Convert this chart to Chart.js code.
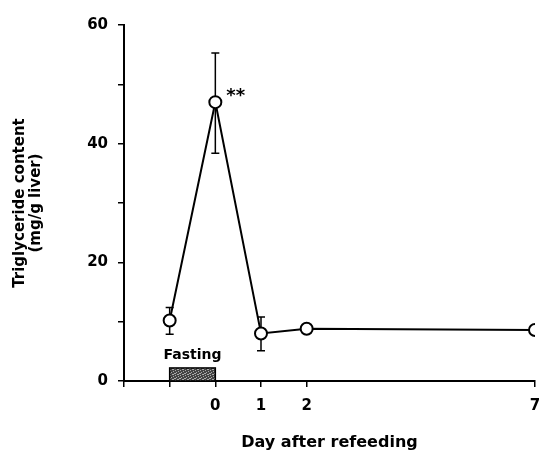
<!DOCTYPE html>
<html>
<head>
<meta charset="utf-8">
<script src="https://cdn.jsdelivr.net/npm/chart.js@4/dist/chart.umd.min.js"></script>
<style>
  html, body { margin: 0; padding: 0; background: #fff; }
  #wrap { width: 543px; height: 455px; }
</style>
</head>
<body>
<div id="wrap"><canvas id="tgChart" width="543" height="455"></canvas></div>
<script>
// data
const days = [-1, 0, 1, 2, 7];
const tgValues = [10.2, 47.0, 8.0, 8.8, 8.6];
const errUpper = [12.4, 55.3, 10.8, null, null];
const errLower = [7.9, 38.4, 5.1, null, null];
const xTicks = [-2, -1, 0, 1, 2, 7];
const xLabels = ['', '', '0', '1', '2', '7'];
const yTicks = [0, 10, 20, 30, 40, 50, 60];
const yLabels = ['0', '', '20', '', '40', '', '60'];
const fastingSpan = [-1, 0];
const fastingHeight = 2.2;
const sigMark = '**';

const FONT = "'DejaVu Sans', 'Liberation Sans', Arial, sans-serif";

// stippled grey fill for the fasting block
function stipple() {
  const c = document.createElement('canvas');
  c.width = 5; c.height = 5;
  const g = c.getContext('2d');
  g.fillStyle = '#444';
  g.fillRect(0, 0, 5, 5);
  g.fillStyle = '#aaa';
  [[0, 0], [3, 1], [1, 2], [4, 3], [2, 4], [0, 3], [3, 4]].forEach(p => g.fillRect(p[0], p[1], 1, 1));
  return g.createPattern(c, 'repeat');
}

const extras = {
  id: 'extras',
  beforeDatasetsDraw(chart) {
    const {ctx, scales: {x, y}} = chart;
    ctx.save();
    ctx.strokeStyle = '#000';
    ctx.lineWidth = 1.5;
    // error bars
    days.forEach((d, i) => {
      if (errUpper[i] == null) return;
      const px = x.getPixelForValue(d);
      const top = y.getPixelForValue(errUpper[i]);
      const bot = y.getPixelForValue(errLower[i]);
      ctx.beginPath();
      ctx.moveTo(px, top); ctx.lineTo(px, bot);
      ctx.moveTo(px - 4, top); ctx.lineTo(px + 4, top);
      ctx.moveTo(px - 4, bot); ctx.lineTo(px + 4, bot);
      ctx.stroke();
    });
    // fasting block
    const x0 = x.getPixelForValue(fastingSpan[0]);
    const x1 = x.getPixelForValue(fastingSpan[1]);
    const y0 = y.getPixelForValue(0);
    const y1 = y.getPixelForValue(fastingHeight);
    ctx.fillStyle = stipple();
    ctx.fillRect(x0, y1, x1 - x0, y0 - y1);
    ctx.strokeRect(x0, y1, x1 - x0, y0 - y1);
    ctx.fillStyle = '#000';
    ctx.font = 'bold 14px ' + FONT;
    ctx.textAlign = 'center';
    ctx.textBaseline = 'middle';
    ctx.fillText('Fasting', (x0 + x1) / 2, y1 - 13);
    // significance mark
    ctx.font = 'bold 18px ' + FONT;
    ctx.textAlign = 'left';
    ctx.fillText(sigMark, x.getPixelForValue(days[1]) + 11, y.getPixelForValue(tgValues[1]) - 6);
    ctx.restore();
  }
};

new Chart(document.getElementById('tgChart').getContext('2d'), {
  type: 'line',
  data: {
    datasets: [{
      data: days.map((d, i) => ({x: d, y: tgValues[i]})),
      borderColor: '#000',
      borderWidth: 2,
      pointRadius: 6,
      pointBorderWidth: 2,
      pointBackgroundColor: '#fff',
      pointBorderColor: '#000',
      tension: 0
    }]
  },
  options: {
    responsive: false,
    animation: false,
    layout: { padding: { top: 25, right: 7, left: 0, bottom: 0 } },
    plugins: { legend: { display: false }, tooltip: { enabled: false } },
    scales: {
      x: {
        type: 'linear',
        min: -2,
        max: 7,
        afterBuildTicks: s => { s.ticks = xTicks.map(v => ({value: v})); },
        afterFit: s => { s.height = 74; s.paddingLeft = 0; s.paddingRight = 0; },
        ticks: {
          color: '#000',
          font: { family: FONT, size: 15, weight: 'bold' },
          padding: 10,
          maxRotation: 0,
          callback: v => xLabels[xTicks.indexOf(v)]
        },
        grid: { drawOnChartArea: false, drawTicks: true, tickLength: 6, color: '#000', lineWidth: 1.5 },
        border: { display: true, color: '#000', width: 2 },
        title: {
          display: true,
          text: 'Day after refeeding',
          color: '#000',
          font: { family: FONT, size: 16, weight: 'bold' },
          padding: { top: 0, bottom: 3 }
        }
      },
      y: {
        min: 0,
        max: 60,
        afterBuildTicks: s => { s.ticks = yTicks.map(v => ({value: v})); },
        afterFit: s => { s.width = 124; },
        ticks: {
          color: '#000',
          font: { family: FONT, size: 15, weight: 'bold' },
          padding: 10,
          callback: v => yLabels[yTicks.indexOf(v)]
        },
        grid: { drawOnChartArea: false, drawTicks: true, tickLength: 6, color: '#000', lineWidth: 1.5 },
        border: { display: true, color: '#000', width: 2 },
        title: {
          display: true,
          text: ['Triglyceride content', '(mg/g liver)'],
          color: '#000',
          font: { family: FONT, size: 15, weight: 'bold', lineHeight: 1.08 },
          padding: { top: 12, bottom: 0 }
        }
      }
    }
  },
  plugins: [extras]
});
</script>
</body>
</html>
